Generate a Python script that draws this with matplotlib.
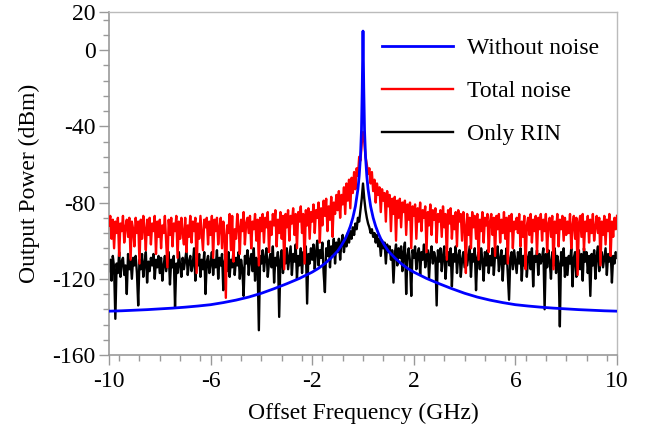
import numpy as np
import matplotlib
matplotlib.use("Agg")
import matplotlib.pyplot as plt
from matplotlib.ticker import MultipleLocator, FixedLocator

# ---------------- data ----------------
# "Without noise" (smooth Lorentzian-like line), left half; right half is mirrored
blue_x_left = [-10, -9.5, -9, -8.5, -8, -7.5, -7, -6.5, -6, -5.5, -5, -4.5, -4, -3.5, -3, -2.5, -2,
               -1.75, -1.5, -1.25, -1, -0.85, -0.7, -0.6, -0.5, -0.4, -0.3, -0.2, -0.15, -0.1, -0.06, -0.03]
blue_y_left = [-137, -136.8, -136.5, -136.2, -135.8, -135.4, -134.9, -134.3, -133.6, -132.5, -131.2, -129.6,
               -127.6, -125.2, -122.6, -119.8, -116.5, -114.5, -112, -109, -105.5, -102.5, -99, -96, -92.5,
               -88, -82, -73, -66, -56, -42, -20]
blue_peak = 10

# noise traces, sampled every 0.05 GHz from -10 to 10 (one row per GHz)
total_noise = [
    -92, -87, -99, -89, -104, -90, -96, -88, -108, -91, -95, -87, -101, -93, -89, -98, -88, -110, -90, -94,
    -103, -88, -96, -90, -112, -89, -99, -87, -94, -105, -89, -97, -88, -102, -91, -95, -87, -107, -90, -98,
    -89, -104, -92, -96, -87, -100, -114, -89, -97, -88, -103, -91, -95, -87, -109, -90, -99, -88, -96, -102,
    -88, -106, -92, -98, -87, -101, -90, -95, -88, -117, -91, -99, -87, -96, -105, -89, -93, -88, -102, -90,
    -97, -87, -109, -89, -95, -88, -102, -93, -88, -104, -90, -97, -130, -92, -96, -86, -105, -87, -111, -94,
    -99, -86, -93, -107, -89, -95, -85, -102, -91, -88, -96, -87, -104, -90, -94, -86, -100, -89, -113, -88,
    -95, -86, -101, -88, -93, -85, -106, -90, -97, -86, -92, -84, -103, -89, -96, -85, -99, -87, -115, -86,
    -93, -84, -100, -87, -91, -83, -97, -86, -104, -85, -90, -82, -96, -86, -112, -84, -92, -83, -99, -85,
    -90, -81, -96, -84, -88, -80, -101, -83, -92, -79, -87, -78, -95, -82, -89, -77, -98, -80, -86, -76,
    -84, -74, -88, -76, -81, -72, -86, -70, -79, -68, -83, -67, -75, -64, -73, -62, -66, -56, -58, -49,
    -43,
    -48, -56, -60, -65, -62, -70, -64, -74, -68, -80, -70, -76, -72, -85, -73, -79, -75, -90, -74, -82,
    -76, -95, -78, -86, -77, -100, -79, -88, -78, -93, -80, -85, -79, -97, -81, -89, -80, -104, -82, -87,
    -81, -99, -83, -90, -80, -95, -84, -88, -82, -106, -85, -92, -81, -97, -84, -89, -83, -101, -86, -90,
    -84, -98, -82, -93, -86, -110, -84, -91, -83, -99, -87, -94, -85, -103, -84, -90, -86, -100, -85, -92,
    -117, -86, -97, -88, -104, -85, -93, -87, -99, -86, -110, -89, -95, -85, -101, -88, -92, -86, -106, -90,
    -86, -97, -88, -108, -87, -94, -86, -101, -89, -96, -85, -99, -88, -112, -87, -95, -86, -104, -90, -94,
    -88, -96, -86, -103, -90, -98, -87, -115, -92, -88, -97, -86, -101, -89, -95, -87, -107, -88, -94, -86,
    -100, -89, -95, -86, -106, -91, -88, -98, -87, -115, -90, -96, -86, -103, -89, -94, -87, -100, -88, -97,
    -90, -96, -86, -104, -92, -87, -99, -88, -118, -91, -87, -98, -86, -105, -90, -95, -87, -101, -89, -96,
    -86, -100, -93, -87, -96, -88, -113, -90, -97, -87, -102, -89, -95, -86, -108, -90, -98, -88, -94, -87,
]

only_rin = [
    -116, -110, -121, -108, -114, -141, -112, -117, -106, -119, -111, -109, -118, -113, -128, -107, -115, -110, -120, -109,
    -113, -108, -117, -134, -110, -115, -107, -119, -112, -106, -122, -111, -116, -109, -113, -107, -120, -110, -114, -108,
    -117, -109, -121, -113, -108, -116, -111, -106, -123, -110, -114, -108, -135, -112, -117, -106, -113, -119, -109, -115,
    -110, -105, -118, -111, -108, -116, -112, -104, -121, -109, -113, -107, -119, -110, -115, -106, -128, -111, -108, -117,
    -112, -106, -118, -110, -114, -105, -120, -109, -113, -107, -126, -111, -108, -116, -106, -119, -110, -114, -105, -118,
    -109, -113, -106, -120, -110, -115, -129, -108, -112, -105, -118, -110, -107, -116, -104, -121, -109, -113, -147, -108,
    -112, -105, -116, -109, -104, -119, -111, -107, -114, -103, -122, -109, -113, -106, -140, -110, -105, -117, -108, -112,
    -104, -115, -109, -103, -118, -107, -111, -102, -120, -108, -113, -104, -117, -106, -110, -103, -133, -107, -112, -104,
    -110, -102, -115, -106, -100, -113, -105, -109, -101, -117, -127, -104, -108, -100, -114, -103, -107, -99, -112, -101,
    -106, -99, -110, -101, -97, -106, -99, -103, -96, -101, -95, -99, -93, -97, -91, -94, -88, -90, -84, -78,
    -70,
    -78, -84, -88, -91, -93, -96, -94, -98, -96, -101, -97, -103, -99, -108, -100, -104, -101, -112, -102, -106,
    -103, -110, -105, -122, -107, -102, -113, -104, -109, -103, -116, -106, -101, -128, -108, -104, -111, -129, -105, -109,
    -103, -115, -107, -104, -118, -106, -110, -102, -114, -108, -105, -120, -107, -103, -112, -106, -109, -134, -105, -111,
    -104, -116, -108, -103, -120, -109, -106, -113, -104, -124, -107, -111, -103, -117, -108, -105, -119, -110, -106, -114,
    -105, -113, -108, -103, -119, -107, -111, -104, -126, -109, -106, -115, -104, -110, -121, -106, -113, -105, -117, -108,
    -113, -104, -118, -107, -109, -103, -116, -110, -105, -121, -108, -112, -104, -117, -131, -109, -106, -115, -105, -111,
    -117, -106, -112, -104, -121, -108, -113, -103, -119, -109, -106, -115, -104, -124, -108, -111, -105, -118, -107, -112,
    -109, -104, -136, -107, -114, -105, -111, -120, -106, -113, -104, -117, -108, -112, -145, -106, -113, -104, -119, -109,
    -118, -108, -112, -104, -124, -109, -106, -119, -110, -105, -115, -107, -121, -104, -111, -106, -117, -108, -129, -107,
    -113, -105, -120, -108, -103, -116, -110, -106, -114, -109, -104, -118, -107, -111, -105, -122, -108, -112, -106, -109,
]

labels = ["Without noise", "Total noise", "Only RIN"]
x_ticks = [-10, -6, -2, 2, 6, 10]
y_ticks = [-160, -120, -80, -40, 0, 20]

blue_x = blue_x_left + [0] + [-v for v in blue_x_left[::-1]]
blue_y = blue_y_left + [blue_peak] + blue_y_left[::-1]
red_x = np.linspace(-10, 10, len(total_noise))
blk_x = np.linspace(-10, 10, len(only_rin))

# ---------------- plot ----------------
plt.rcParams['font.family'] = ['Liberation Serif', 'DejaVu Serif']
plt.rcParams['font.size'] = 17
plt.rcParams['axes.unicode_minus'] = False

fig = plt.figure(figsize=(6.57, 4.37), dpi=100)
ax = fig.add_axes([109/657, 1 - 355/437, 508/657, 343/437])

l_blk, = ax.plot(blk_x, only_rin, color='#000000', lw=1.7, label=labels[2], zorder=2)
l_red, = ax.plot(red_x, total_noise, color='#ff0000', lw=1.7, label=labels[1], zorder=3)
l_blu, = ax.plot(blue_x, blue_y, color='#0000ff', lw=2.0, label=labels[0], zorder=4)

ax.set_xlim(-10, 10)
ax.set_ylim(-160, 20)
ax.xaxis.set_major_locator(FixedLocator(x_ticks))
ax.xaxis.set_minor_locator(MultipleLocator(0.8))
ax.yaxis.set_major_locator(FixedLocator(y_ticks))
ax.yaxis.set_minor_locator(FixedLocator(list(range(-152, 20, 8))))

ax.tick_params(which='major', direction='out', length=7.5, width=1, color='#999999')
ax.tick_params(which='minor', direction='out', length=4, width=1, color='#999999')
ax.tick_params(axis='x', which='major', pad=4)
ax.tick_params(axis='y', which='major', pad=2)
ax.tick_params(axis='both', labelsize=17)

for s in ['left', 'bottom']:
    ax.spines[s].set_color('#999999')
    ax.spines[s].set_linewidth(1.2)
for s in ['top', 'right']:
    ax.spines[s].set_color('#bbbbbb')
    ax.spines[s].set_linewidth(1.0)

ax.set_xlabel('Offset Frequency (GHz)', fontsize=17, labelpad=8)
ax.set_ylabel('Output Power (dBm)', fontsize=17, labelpad=9)

ax.legend(handles=[l_blu, l_red, l_blk], labels=labels, loc='upper left',
          bbox_to_anchor=(0.537, 0.925), frameon=False, fontsize=17,
          handlelength=3.0, handletextpad=0.6, labelspacing=0.9,
          borderpad=0, borderaxespad=0)

fig.savefig('out.png', dpi=100)
